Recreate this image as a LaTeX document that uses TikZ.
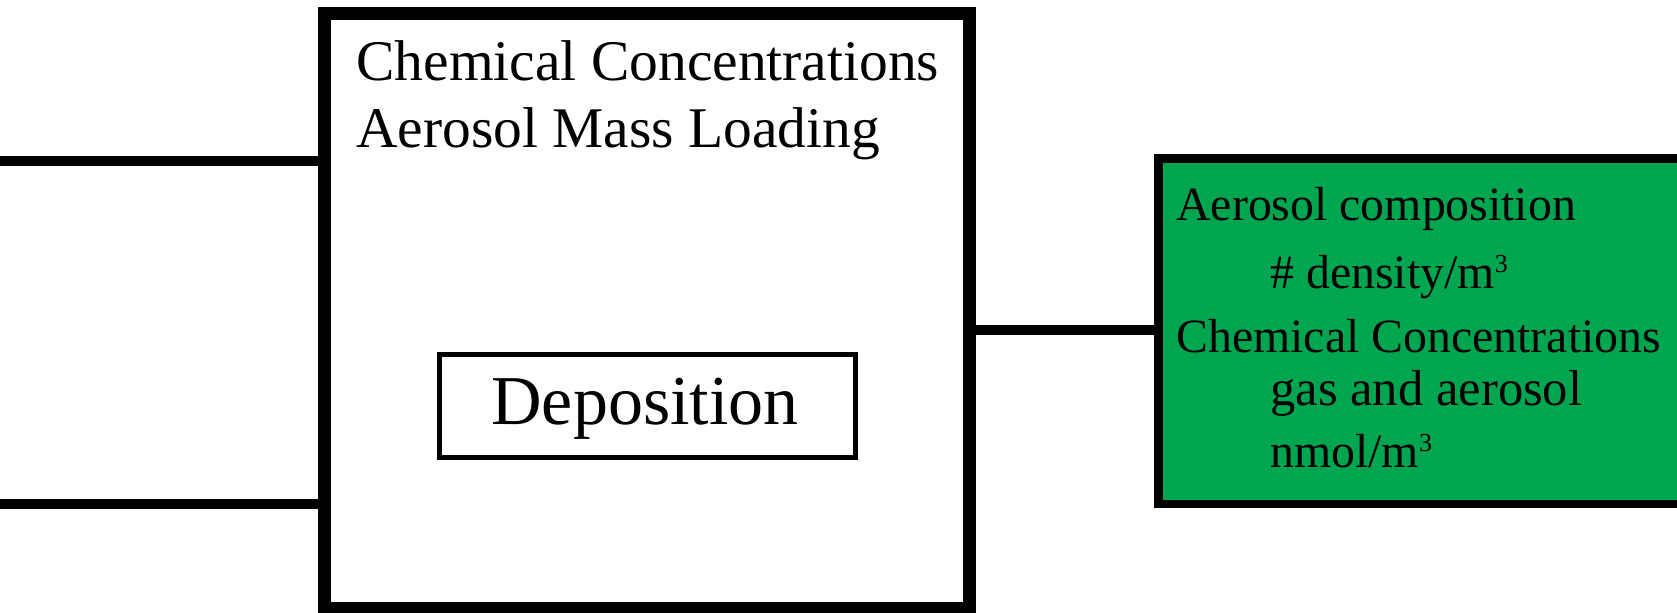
\documentclass[tikz,border=0pt]{standalone}
\usepackage{fontspec}
\setmainfont{Liberation Serif}
\definecolor{boxgreen}{RGB}{0,165,80}
\newcommand{\cubed}{{\fontsize{13}{13}\selectfont\raisebox{7.8pt}{3}}}
\tikzset{
  mainbox/.style={draw=black, line width=6.65pt, inner sep=0pt, fill=white},
  depbox/.style={draw=black, line width=2.5pt, inner sep=0pt, fill=white},
  outbox/.style={draw=black, line width=4.15pt, inner sep=0pt, fill=boxgreen},
  wire/.style={draw=black, line width=5pt},
  deptext/.style={anchor=base, inner sep=0pt, font=\fontsize{35}{42}\selectfont},
  bigtext/.style={anchor=base west, inner sep=0pt, font=\fontsize{28.75}{34}\selectfont},
  smalltext/.style={anchor=base west, inner sep=0pt, font=\fontsize{23.9}{28}\selectfont}
}
\begin{document}
\begin{tikzpicture}
\useasboundingbox (0,0) rectangle (838.5pt,-306pt);

% model box, inner process and output box
\node[mainbox, minimum width=322.7pt, minimum height=297.55pt] (model) at (323.5pt,-155.4pt) {};
\node[depbox, minimum width=208.4pt, minimum height=51.25pt] (dep) at (323.7pt,-203.1pt) {};
\node[deptext] (deplabel) at (322.5pt,-212.3pt) {Deposition};
\node[outbox, minimum width=263.25pt, minimum height=172.75pt] (out) at (710.9pt,-165.6pt) {};

% incoming lines on the left and the link to the output box
\coordinate (inA) at (0pt,-80.5pt);
\coordinate (inB) at (0pt,-252.15pt);
\coordinate (link) at (0pt,-165.15pt);
\draw[wire] (inA) -- (inA -| model.west);
\draw[wire] (inB) -- (inB -| model.west);
\draw[wire, line width=4.85pt] (link -| model.east) -- (link -| out.west);

% model box labels
\node[bigtext] (m1) at (178pt,-40pt) {Chemical Concentrations};
\node[bigtext] (m2) at (178pt,-73.5pt) {Aerosol Mass Loading};

% output box labels
\node[smalltext] (o1) at (588pt,-110pt) {Aerosol composition};
\node[smalltext] (o2) at (635pt,-144pt) {\# density/m\cubed};
\node[smalltext] (o3) at (588pt,-176pt) {Chemical Concentrations};
\node[smalltext, font=\fontsize{25.3}{30}\selectfont] (o4) at (635pt,-202.5pt) {gas and aerosol};
\node[smalltext] (o5) at (635pt,-233.5pt) {nmol/m\cubed};
\end{tikzpicture}
\end{document}
